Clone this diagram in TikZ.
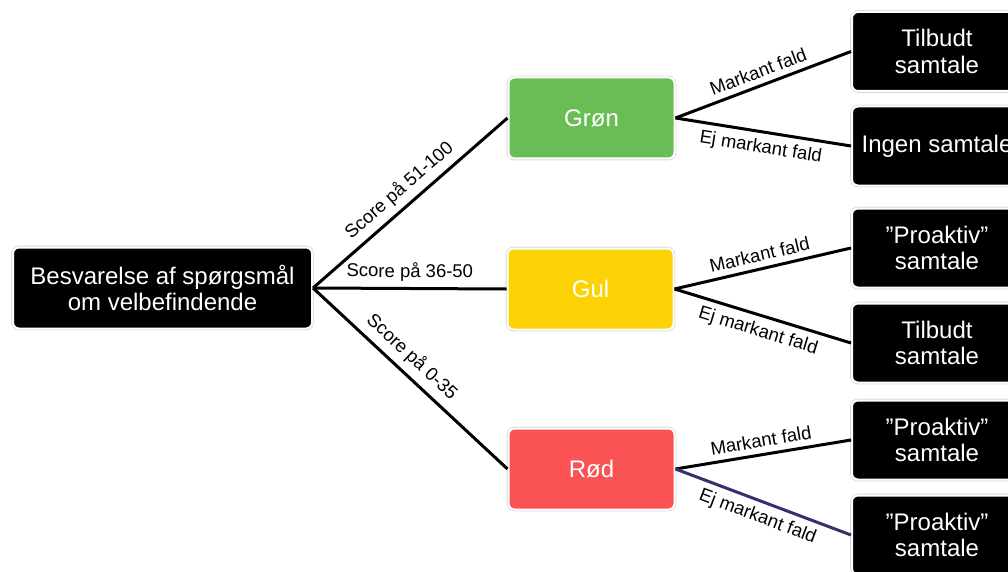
\documentclass[tikz,border=0pt]{standalone}
\usepackage{fontspec}
\setmainfont{Liberation Sans}
\usetikzlibrary{positioning}

\definecolor{groen}{HTML}{6ABD54}
\definecolor{gul}{HTML}{FDD204}
\definecolor{roed}{HTML}{FB5353}
\definecolor{lilla}{HTML}{35306E}

\begin{document}
\begin{tikzpicture}[
  x=1pt, y=-1pt,
  box/.style={rounded corners=6pt, align=center, text=white, inner sep=2pt,
    minimum height=81pt, draw=white, line width=2pt,
    preaction={draw=black!15, line width=3.6pt},
    font=\fontsize{24}{26.5}\selectfont},
  sort/.style={box, fill=black},
  farve/.style={box, minimum width=166pt},
  udfald/.style={sort, minimum width=170pt, minimum height=79pt},
  gren/.style={draw=black, line width=3pt},
  lbl/.style={font=\fontsize{18.5}{20}\selectfont, sloped, inner sep=6pt}
]
\useasboundingbox (0,0) rectangle (1008,572);

\node[sort, minimum width=299pt] (svar) at (162.5,288) {Besvarelse af spørgsmål\\om velbefindende};

\node[farve, fill=groen] (groen) at (591.5,118) {Grøn};
\node[farve, fill=gul] (gul) at (590.5,289) {Gul};
\node[farve, fill=roed] (roed) at (591.5,469) {Rød};

\node[udfald] (g1) at (937,51.5) {Tilbudt\\samtale};
\node[udfald] (g2) at (937,146) {Ingen samtale};
\node[udfald] (y1) at (937,248) {”Proaktiv”\\samtale};
\node[udfald] (y2) at (937,343) {Tilbudt\\samtale};
\node[udfald] (r1) at (937,440) {”Proaktiv”\\samtale};
\node[udfald] (r2) at (937,535) {”Proaktiv”\\samtale};

\draw[gren] (svar.east) -- node[lbl, above] {Score på 51-100} (groen.west);
\draw[gren] (svar.east) -- node[lbl, above] {Score på 36-50} (gul.west);
\draw[gren] (svar.east) -- node[lbl, above, pos=.45] {Score på 0-35} (roed.west);

\draw[gren] (groen.east) -- node[lbl, above] {Markant fald} (g1.west);
\draw[gren] (groen.east) -- node[lbl, below] {Ej markant fald} (g2.west);
\draw[gren] (gul.east) -- node[lbl, above] {Markant fald} (y1.west);
\draw[gren] (gul.east) -- node[lbl, below] {Ej markant fald} (y2.west);
\draw[gren] (roed.east) -- node[lbl, above] {Markant fald} (r1.west);
\draw[gren, draw=lilla] (roed.east) -- node[lbl, below] {Ej markant fald} (r2.west);
\end{tikzpicture}
\end{document}
